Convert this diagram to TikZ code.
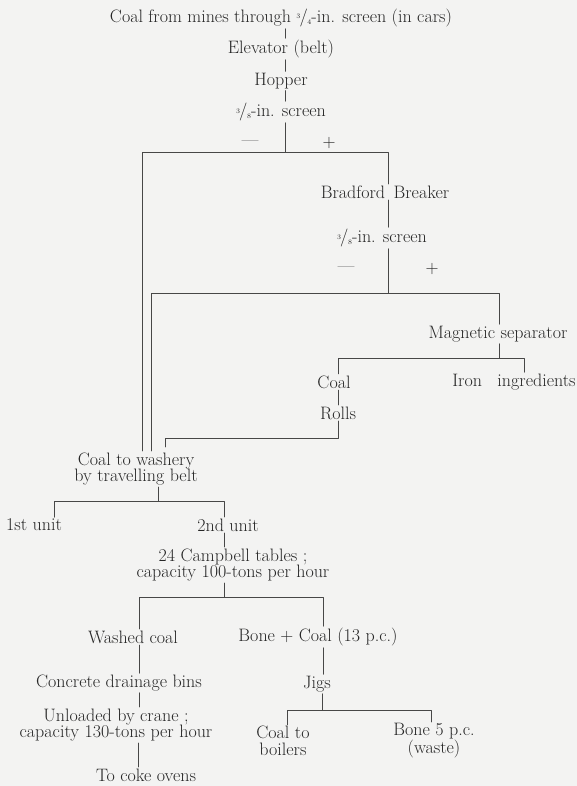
\documentclass[tikz,border=0pt]{standalone}
\newcommand{\fr}[2]{\mbox{\raisebox{0.45ex}{\scriptsize #1}\kern-0.05em/\kern-0.02em\raisebox{-0.2ex}{\scriptsize #2}}}
\definecolor{paper}{HTML}{F3F3F2}
\definecolor{ink}{HTML}{262626}
\begin{document}
\begin{tikzpicture}[x=1pt,y=-1pt,line join=round,line cap=round,
	lbl/.style={inner sep=1.5pt,text=ink,align=center,font=\fontsize{18}{16.5}\selectfont},
	ln/.style={draw=ink!85,line width=0.7pt}]
	\fill[paper] (0,0) rectangle (577,786);
	\useasboundingbox (0,0) rectangle (577,786);
	\node[lbl] (title) at (281,18) {Coal from mines through \fr34-in. screen (in cars)};
	\node[lbl] (elev) at (281,49) {Elevator (belt)};
	\node[lbl] (hop) at (281,81) {Hopper};
	\node[lbl] (scra) at (281,112) {\fr38-in. screen};
	\node[lbl] (mina) at (250,143) {---};
	\node[lbl] (plsa) at (329,143) {+};
	\node[lbl] (brad) at (385,192) {Bradford\hspace{3pt} Breaker};
	\node[lbl] (scrb) at (382,238) {\fr38-in. screen};
	\node[lbl] (minb) at (346,269) {---};
	\node[lbl] (plsb) at (432,269) {+};
	\node[lbl] (mag) at (498,334) {Magnetic separator};
	\node[lbl] (coal) at (334,382) {Coal};
	\node[lbl] (iron) at (514,382) {Iron\hspace{10pt} ingredients};
	\node[lbl] (rolls) at (338,413) {Rolls};
	\node[lbl] (wash) at (136,469) {Coal to washery\\by travelling belt};
	\node[lbl] (unia) at (34,525) {1st unit};
	\node[lbl] (unib) at (228,525) {2nd unit};
	\node[lbl] (camp) at (233,565) {24 Campbell tables ;\\capacity 100-tons per hour};
	\node[lbl] (washed) at (133,637) {Washed coal};
	\node[lbl] (bone) at (318,637) {Bone + Coal (13 p.c.)};
	\node[lbl] (conc) at (119,683) {Concrete drainage bins};
	\node[lbl] (jigs) at (317,684) {Jigs};
	\node[lbl] (unl) at (116,725) {Unloaded by crane ;\\capacity 130-tons per hour};
	\node[lbl] (boil) at (283,741) {Coal to\\boilers};
	\node[lbl] (waste) at (434,741) {Bone 5 p.c.\\(waste)};
	\node[lbl] (coke) at (146,775) {To coke ovens};
	\coordinate (ja) at (285,152);
	\coordinate (jb) at (388,293);
	\coordinate (jc) at (499,358);
	\coordinate (jd) at (338,438);
	\coordinate (je) at (158,501);
	\coordinate (jf) at (224,597);
	\coordinate (jg) at (322,710);
	\draw[ln] (title.south -| ja) -- (elev.north -| ja);
	\draw[ln] (elev.south -| ja) -- (hop.north -| ja);
	\draw[ln] (hop.south -| ja) -- (scra.north -| ja);
	\draw[ln] (scra.south -| ja) -- (ja);
	\draw[ln] (wash.north -| 142,0) -- (142,152) -- (388,152) -- (brad.north -| 388,0);
	\draw[ln] (brad.south -| jb) -- (scrb.north -| jb);
	\draw[ln] (scrb.south -| jb) -- (jb);
	\draw[ln] (wash.north -| 151,0) -- (151,293) -- (499,293) -- (mag.north -| jc);
	\draw[ln] (mag.south -| jc) -- (jc);
	\draw[ln] (coal.north -| jd) -- (338,358) -- (524,358) -- (iron.north -| 524,0);
	\draw[ln] (coal.south -| jd) -- (rolls.north -| jd);
	\draw[ln] (rolls.south -| jd) -- (jd) -- (165,438) -- ([yshift=4pt]wash.north -| 165,0);
	\draw[ln] (wash.south -| je) -- (je);
	\draw[ln] (unia.north -| 54,0) -- (54,501) -- (224,501) -- (unib.north -| jf);
	\draw[ln] (unib.south -| jf) -- (camp.north -| jf);
	\draw[ln] (camp.south -| jf) -- (jf);
	\draw[ln] (washed.north -| 139,0) -- (139,597) -- (323,597) -- (bone.north -| 323,0);
	\draw[ln] (washed.south -| 139,0) -- (conc.north -| 139,0);
	\draw[ln] (conc.south -| 139,0) -- (unl.north -| 139,0);
	\draw[ln] (unl.south -| 138,0) -- (coke.north -| 138,0);
	\draw[ln] (bone.south -| 323,0) -- (jigs.north -| 323,0);
	\draw[ln] (jigs.south -| jg) -- (jg);
	\draw[ln] (boil.north -| 287,0) -- (287,710) -- (431,710) -- (waste.north -| 431,0);
\end{tikzpicture}
\end{document}
